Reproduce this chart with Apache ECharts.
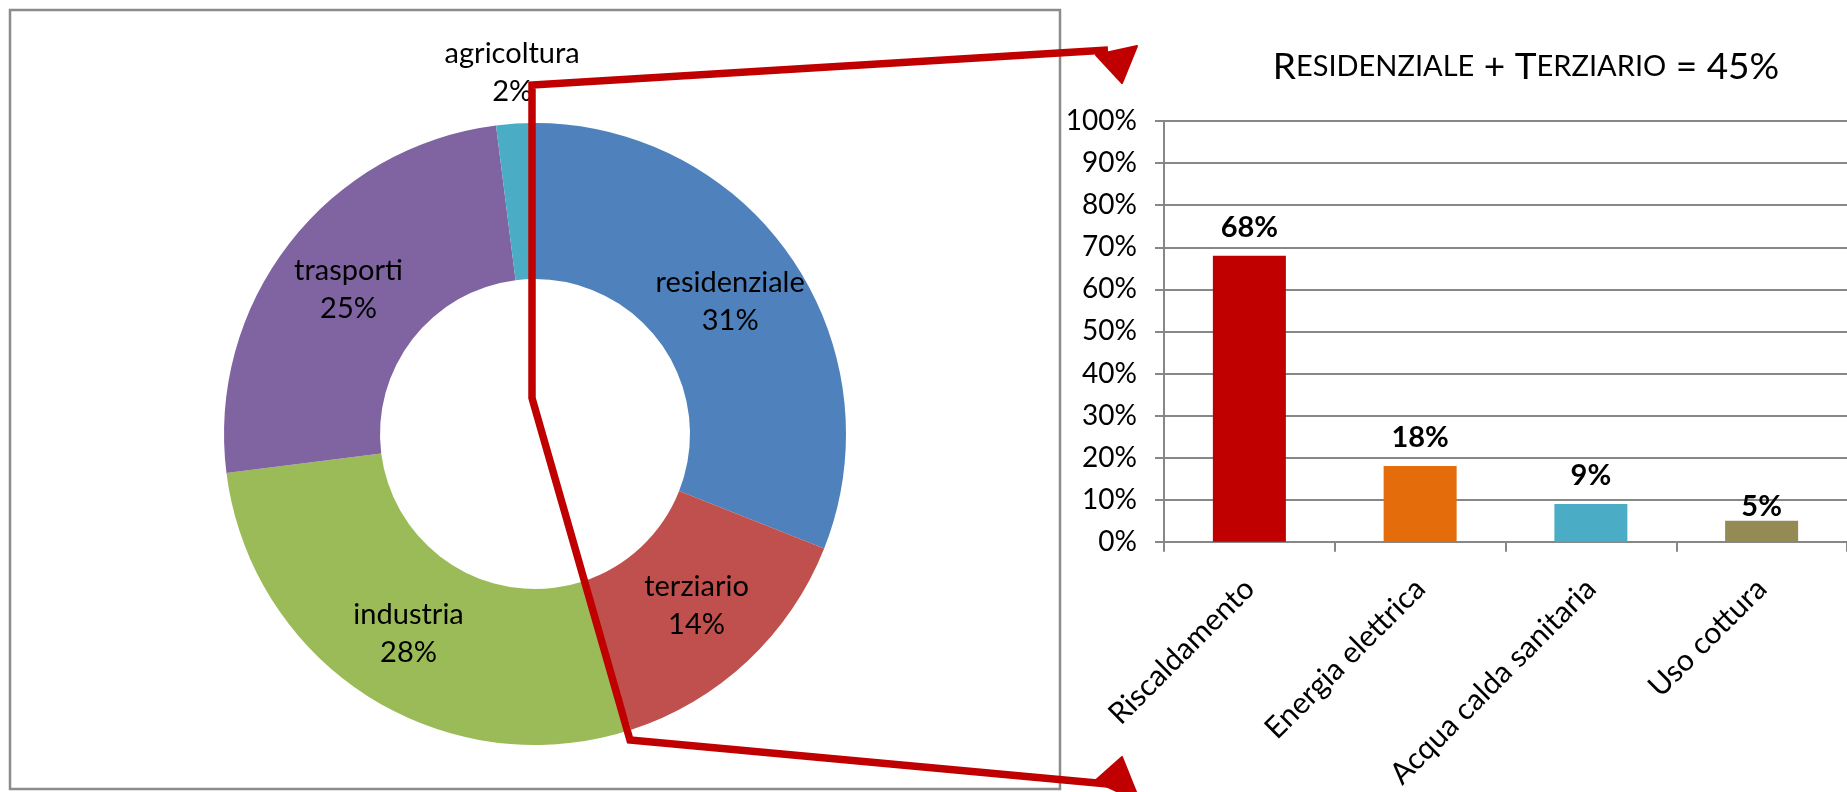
<!DOCTYPE html>
<html>
<head>
<meta charset="utf-8">
<script src="https://cdn.jsdelivr.net/npm/echarts@6/dist/echarts.min.js"></script>
<style>
html,body{margin:0;padding:0;background:#fff;}
#c{width:1847px;height:792px;}
</style>
</head>
<body>
<div id="c"></div>
<script>
// ---- data ----
const pieCategories = ['residenziale', 'terziario', 'industria', 'trasporti', 'agricoltura'];
const pieValues = [31, 14, 28, 25, 2];
const barCategories = ['Riscaldamento', 'Energia elettrica', 'Acqua calda sanitaria', 'Uso cottura'];
const barValues = [68, 18, 9, 5];
const titleParts = ['R', 'ESIDENZIALE', ' + T', 'ERZIARIO', ' = 45%'];

// ---- styles ----
const pieColors = ['#4F81BD', '#C0504D', '#9BBB59', '#8064A2', '#4BACC6'];
const barColors = ['#C00000', '#E46C0A', '#4BACC6', '#948A54'];
const FONT = 'Lato';
const GRAY = '#878787';
const RED = '#C00000';

const chart = echarts.init(document.getElementById('c'), null, {renderer: 'canvas'});

const pieData = pieCategories.map((n, i) => ({
  name: n,
  value: pieValues[i],
  itemStyle: {color: pieColors[i]}
}));

const barData = barCategories.map((n, i) => ({
  value: barValues[i],
  itemStyle: {color: barColors[i]},
  label: {distance: i === 3 ? 0 : 14}
}));

const option = {
  animation: false,
  backgroundColor: '#fff',
  title: {
    text: '{a|' + titleParts[0] + '}{b|' + titleParts[1] + '}{a|' + titleParts[2] + '}{b|' + titleParts[3] + '}{a|' + titleParts[4] + '}',
    left: 1521,
    top: 40,
    textAlign: 'center',
    textStyle: {
      fontWeight: 'normal',
      rich: {
        a: {fontFamily: FONT, fontSize: 37, fontWeight: 'normal', color: '#000', lineHeight: 44},
        b: {fontFamily: FONT, fontSize: 29, fontWeight: 'normal', color: '#000', lineHeight: 44}
      }
    }
  },
  grid: {left: 1164, top: 121, width: 698, height: 421, containLabel: false},
  xAxis: {
    type: 'category',
    data: barCategories,
    axisLine: {show: true, lineStyle: {color: GRAY, width: 2}},
    axisTick: {show: true, length: 10, lineStyle: {color: GRAY, width: 2}},
    axisLabel: {rotate: 45, margin: 42, fontFamily: FONT, fontSize: 30, color: '#000', interval: 0}
  },
  yAxis: {
    type: 'value',
    min: 0, max: 100, interval: 10,
    axisLine: {show: true, lineStyle: {color: GRAY, width: 2}},
    axisTick: {show: true, length: 9, lineStyle: {color: GRAY, width: 2}},
    splitLine: {show: true, lineStyle: {color: GRAY, width: 2}},
    axisLabel: {formatter: '{value}%', margin: 27, fontFamily: FONT, fontSize: 28, color: '#000'}
  },
  series: [
    {
      type: 'pie',
      center: [535, 434],
      radius: [155, 311],
      startAngle: 90,
      clockwise: true,
      avoidLabelOverlap: false,
      silent: true,
      data: pieData,
      label: {
        show: true,
        position: 'inside',
        formatter: '{b}\n{c}%',
        fontFamily: FONT,
        fontSize: 29,
        lineHeight: 38,
        color: '#000'
      },
      labelLine: {show: false},
      labelLayout: function (p) {
        if (p.dataIndex === 4) return {dx: -8, dy: -126};
        return {};
      },
      z: 2
    },
    {
      type: 'bar',
      data: barData,
      barWidth: 73,
      label: {
        show: true,
        position: 'top',
        formatter: '{c}%',
        fontFamily: FONT,
        fontSize: 29,
        fontWeight: 'bold',
        color: '#000'
      },
      z: 3
    }
  ],
  graphic: [
    {
      type: 'rect',
      shape: {x: 10, y: 10, width: 1050, height: 779},
      style: {fill: 'none', stroke: '#8C8C8C', lineWidth: 2.5},
      z: 1
    },
    {
      type: 'polyline',
      shape: {points: [[1108, 50], [532, 85], [532, 398], [630, 740], [1108, 784]]},
      style: {fill: 'none', stroke: RED, lineWidth: 7.5, lineJoin: 'miter'},
      z: 100
    },
    {
      type: 'polygon',
      shape: {points: [[1096, 55], [1137, 46], [1122, 83]]},
      style: {fill: RED, stroke: RED, lineWidth: 2, lineJoin: 'round'},
      z: 100
    },
    {
      type: 'polygon',
      shape: {points: [[1095, 781], [1122, 757], [1140, 802]]},
      style: {fill: RED, stroke: RED, lineWidth: 2, lineJoin: 'round'},
      z: 100
    }
  ]
};

chart.setOption(option);
</script>
</body>
</html>
